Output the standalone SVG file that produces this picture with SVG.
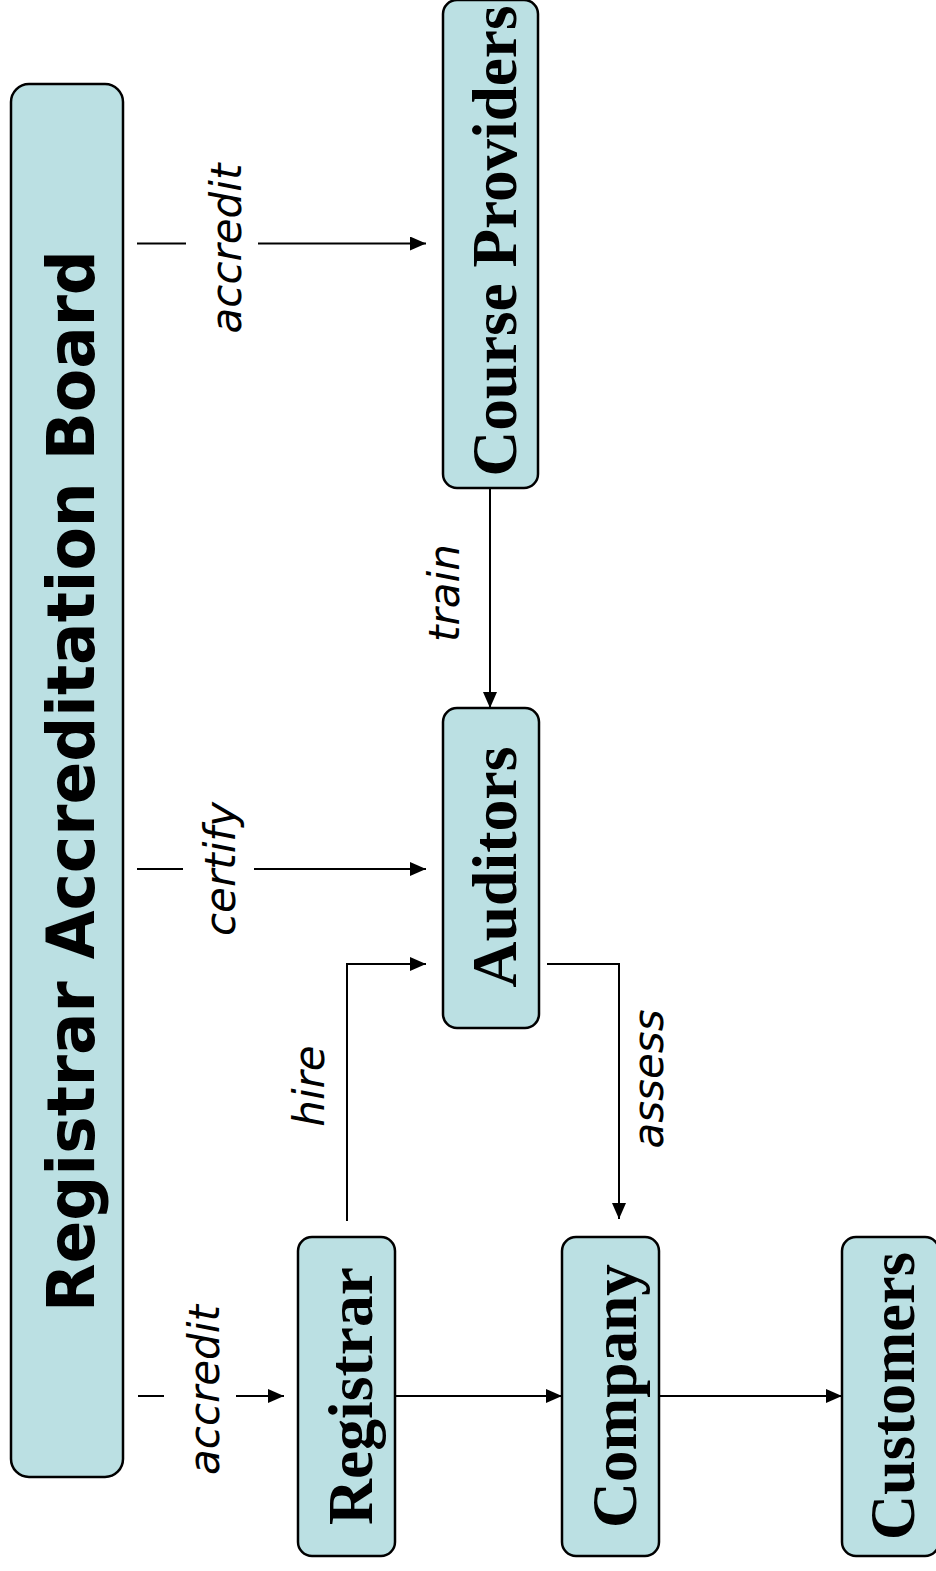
<svg xmlns="http://www.w3.org/2000/svg" width="936" height="1571" viewBox="0 0 936 1571">
  <style>
    .box { fill: #bbe0e3; stroke: #000; stroke-width: 2.5; }
    .title { font-family: "DejaVu Sans", Verdana, sans-serif; font-weight: bold; font-size: 66px; }
    .name { font-family: "Liberation Serif", "Times New Roman", serif; font-weight: bold; font-size: 64px; }
    .lbl { font-family: "DejaVu Sans", Verdana, sans-serif; font-style: italic; font-size: 42px; }
    .wire { fill: none; stroke: #000; stroke-width: 2; }
  </style>
  <defs>
    <marker id="arrowBig" viewBox="0 0 16 14" refX="16" refY="7" markerWidth="16" markerHeight="14" markerUnits="userSpaceOnUse" orient="auto">
      <path d="M0,0 L16,7 L0,14 Z" fill="#000"/>
    </marker>
  </defs>

  <g id="board">
    <rect class="box" x="11" y="84" width="112" height="1393" rx="18"/>
    <text class="title" transform="translate(94,781) rotate(-90)" text-anchor="middle" textLength="1062" lengthAdjust="spacingAndGlyphs">Registrar Accreditation Board</text>
  </g>

  <g id="course-providers">
    <rect class="box" x="443" y="0" width="95" height="488" rx="14"/>
    <text class="name" transform="translate(516,241) rotate(-90)" text-anchor="middle" textLength="471" lengthAdjust="spacingAndGlyphs">Course Providers</text>
  </g>

  <g id="auditors">
    <rect class="box" x="443" y="708" width="96" height="320" rx="14"/>
    <text class="name" transform="translate(516,867) rotate(-90)" text-anchor="middle" textLength="241" lengthAdjust="spacingAndGlyphs">Auditors</text>
  </g>

  <g id="registrar">
    <rect class="box" x="298" y="1237" width="97" height="319" rx="14"/>
    <text class="name" transform="translate(372,1396) rotate(-90)" text-anchor="middle" textLength="258" lengthAdjust="spacingAndGlyphs">Registrar</text>
  </g>

  <g id="company">
    <rect class="box" x="562" y="1237" width="97" height="319" rx="14"/>
    <text class="name" transform="translate(636,1396) rotate(-90)" text-anchor="middle" textLength="264" lengthAdjust="spacingAndGlyphs">Company</text>
  </g>

  <g id="customers">
    <rect class="box" x="842" y="1237" width="97" height="319" rx="14"/>
    <text class="name" transform="translate(914,1396) rotate(-90)" text-anchor="middle" textLength="288" lengthAdjust="spacingAndGlyphs">Customers</text>
  </g>

  <g id="connectors">
    <!-- board accredits course providers -->
    <line class="wire" x1="137" y1="243.5" x2="186" y2="243.5"/>
    <line class="wire" x1="258" y1="243.5" x2="426" y2="243.5" marker-end="url(#arrowBig)"/>
    <text class="lbl" transform="translate(241,248.5) rotate(-90)" text-anchor="middle">accredit</text>

    <!-- course providers train auditors -->
    <line class="wire" x1="490" y1="488" x2="490" y2="708" marker-end="url(#arrowBig)"/>
    <text class="lbl" transform="translate(459,593) rotate(-90)" text-anchor="middle">train</text>

    <!-- board certifies auditors -->
    <line class="wire" x1="137" y1="869" x2="183" y2="869"/>
    <line class="wire" x1="254" y1="869" x2="426" y2="869" marker-end="url(#arrowBig)"/>
    <text class="lbl" transform="translate(235,869) rotate(-90)" text-anchor="middle">certify</text>

    <!-- registrar hires auditors -->
    <polyline class="wire" points="347,1221 347,964 426,964" marker-end="url(#arrowBig)"/>
    <text class="lbl" transform="translate(324,1086) rotate(-90)" text-anchor="middle">hire</text>

    <!-- auditors assess company -->
    <polyline class="wire" points="547,964 619,964 619,1219" marker-end="url(#arrowBig)"/>
    <text class="lbl" transform="translate(663,1079) rotate(-90)" text-anchor="middle">assess</text>

    <!-- board accredits registrar -->
    <line class="wire" x1="138" y1="1396" x2="164" y2="1396"/>
    <line class="wire" x1="236" y1="1396" x2="284" y2="1396" marker-end="url(#arrowBig)"/>
    <text class="lbl" transform="translate(219,1390) rotate(-90)" text-anchor="middle">accredit</text>

    <!-- registrar to company, company to customers -->
    <line class="wire" x1="395" y1="1396" x2="562" y2="1396" marker-end="url(#arrowBig)"/>
    <line class="wire" x1="659" y1="1396" x2="842" y2="1396" marker-end="url(#arrowBig)"/>
  </g>
</svg>
